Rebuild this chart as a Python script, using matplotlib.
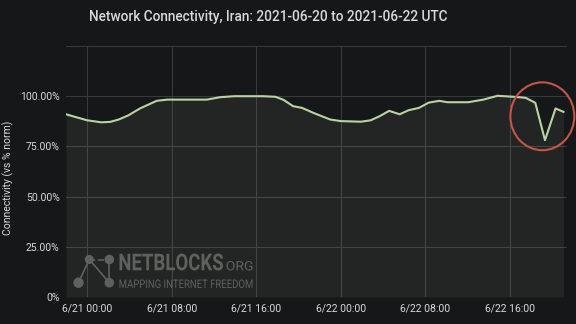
import numpy as np
import pandas as pd
import matplotlib
matplotlib.use('Agg')
import matplotlib.pyplot as plt
import matplotlib.dates as mdates
from matplotlib.patches import Ellipse, PathPatch, Circle
from matplotlib.textpath import TextPath
from matplotlib.font_manager import FontProperties
import matplotlib.transforms as mtransforms

# connectivity readings
times = ['2021-06-20 22:00', '2021-06-21 00:00', '2021-06-21 01:20', '2021-06-21 02:10',
         '2021-06-21 03:00', '2021-06-21 03:55', '2021-06-21 05:00', '2021-06-21 06:35',
         '2021-06-21 07:35', '2021-06-21 09:30', '2021-06-21 11:20', '2021-06-21 12:35',
         '2021-06-21 13:55', '2021-06-21 15:50', '2021-06-21 16:40', '2021-06-21 17:50',
         '2021-06-21 18:35', '2021-06-21 19:30', '2021-06-21 20:20', '2021-06-21 21:25',
         '2021-06-21 23:00', '2021-06-22 00:00', '2021-06-22 01:55', '2021-06-22 02:50',
         '2021-06-22 03:40', '2021-06-22 04:35', '2021-06-22 05:35', '2021-06-22 06:25',
         '2021-06-22 07:25', '2021-06-22 08:20', '2021-06-22 09:20', '2021-06-22 10:05',
         '2021-06-22 12:05', '2021-06-22 13:30', '2021-06-22 14:50', '2021-06-22 16:25',
         '2021-06-22 17:30', '2021-06-22 18:25', '2021-06-22 19:20', '2021-06-22 20:20',
         '2021-06-22 21:05']
connectivity = [91.0, 88.0, 87.0, 87.2, 88.4, 90.5, 93.9, 97.7, 98.3, 98.3, 98.3, 99.5,
                100.0, 100.0, 100.0, 99.7, 98.2, 95.0, 94.2, 91.7, 88.4, 87.6, 87.3, 88.0,
                90.0, 92.7, 91.0, 93.0, 94.2, 96.8, 97.7, 97.0, 97.0, 98.3, 100.2, 99.7,
                99.2, 96.7, 78.1, 93.9, 92.2]

xtick_times = ['2021-06-21 00:00', '2021-06-21 08:00', '2021-06-21 16:00',
               '2021-06-22 00:00', '2021-06-22 08:00', '2021-06-22 16:00']
ytick_values = [0, 25, 50, 75, 100, 125]
ytick_labels = ['0%', '25.00%', '50.00%', '75.00%', '100.00%', '']

# highlighted dip
circle_center = '2021-06-22 19:05'
circle_pct = 90

bg = '#161719'
text_col = '#d8d9da'
grid_col = '#37393b'
line_col = '#b9d4a2'

t = pd.to_datetime(times)

fig = plt.figure(figsize=(5.76, 3.24), dpi=100, facecolor=bg)
ax = fig.add_axes([66/576, 27/324, 501/576, 251/324])
ax.set_facecolor(bg)

ax.fill_between(t, connectivity, color=line_col, alpha=0.08, lw=0)
ax.plot(t, connectivity, color=line_col, lw=1.5, zorder=3)

ax.set_xlim(t[0], pd.Timestamp('2021-06-22 21:25'))
ax.set_ylim(0, 125)
ax.set_xticks(pd.to_datetime(xtick_times))
ax.xaxis.set_major_formatter(mdates.DateFormatter('%-m/%d %H:%M'))
ax.set_yticks(ytick_values)
ax.set_yticklabels(ytick_labels)
ax.tick_params(length=0, colors=text_col, labelsize=7.5, pad=4.5)
for lab in ax.get_xticklabels() + ax.get_yticklabels():
    lab.set_fontfamily('Roboto')
ax.grid(True, color=grid_col, lw=0.8)
ax.set_axisbelow(True)
for s in ax.spines.values():
    s.set_visible(False)

ax.set_ylabel('Connectivity (vs % norm)', color=text_col, fontsize=7.5, family='Roboto')
ax.yaxis.set_label_coords(-0.103, 0.474)

fig.text(0.466, 0.949, 'Network Connectivity, Iran: 2021-06-20 to 2021-06-22 UTC',
         ha='center', va='center', color=text_col, fontsize=9.8, family='Roboto',
         weight='medium')

# red circle around the dip
cx = mdates.date2num(pd.Timestamp(circle_center))
ax.add_patch(Ellipse((cx, circle_pct), width=6.05/24, height=33.8, fill=False,
                     edgecolor='#c4554a', lw=1.5, zorder=4, clip_on=False))

# NetBlocks watermark, drawn in pixel coordinates
px = mtransforms.Affine2D().scale(1/576, 1/324) + fig.transFigure
wm = '#5e625e'


def fit_text(s, x0, x1, ytop, ybot, weight='bold'):
    path = TextPath((0, 0), s, size=20, prop=FontProperties(family='Roboto', weight=weight))
    ext = path.get_extents()
    sx = (x1 - x0) / ext.width
    sy = (ybot - ytop) / ext.height
    tr = mtransforms.Affine2D().translate(-ext.x0, -ext.y0).scale(sx, sy).translate(x0, 324 - ybot)
    patch = PathPatch(tr.transform_path(path), color=wm, lw=0, transform=px)
    fig.add_artist(patch)


fit_text('NETBLOCKS', 119.5, 223, 253.5, 270.5)
fit_text('ORG', 226.5, 252.5, 261, 270.5, weight='normal')
fit_text('MAPPING INTERNET FREEDOM', 119.5, 252.5, 279.5, 288, weight='normal')

nodes = [(78.5, 282.7, 5.2), (89.3, 259.5, 4.5), (109.3, 259.5, 4.8), (109.3, 282.7, 4.8)]
edges = [(0, 1, '-'), (1, 2, '--'), (1, 3, '-'), (2, 3, '-')]
for a, b, ls in edges:
    fig.add_artist(plt.Line2D([nodes[a][0], nodes[b][0]], [324 - nodes[a][1], 324 - nodes[b][1]],
                              color=wm, lw=1.2, ls=ls, transform=px))
for x, y, r in nodes:
    fig.add_artist(Circle((x, 324 - y), r, color=wm, lw=0, transform=px))

fig.savefig('out.png', dpi=100, facecolor=bg)
